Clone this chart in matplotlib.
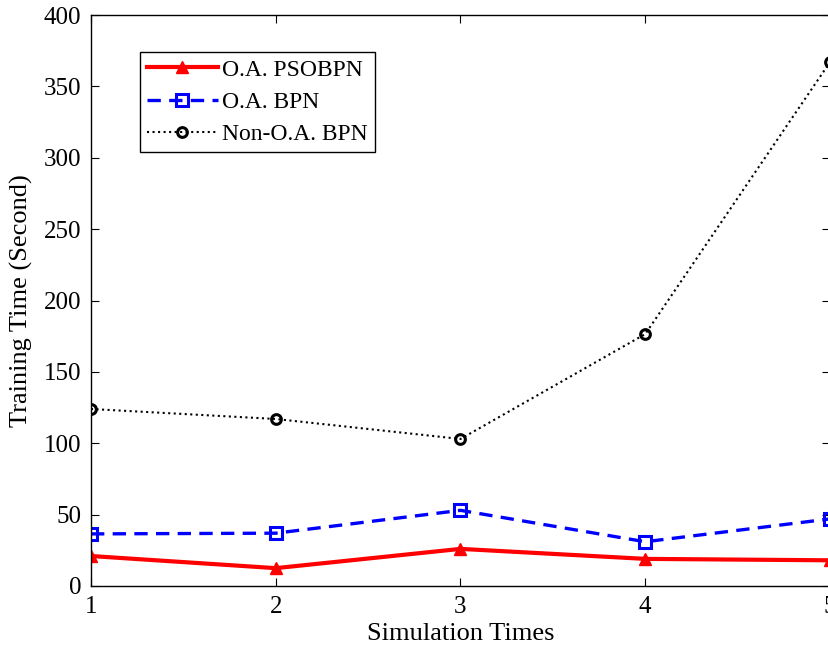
import matplotlib
matplotlib.use('Agg')
import matplotlib.pyplot as plt

# simulation runs and training times (seconds)
runs = [1, 2, 3, 4, 5]
pso_bpn = [21, 12.5, 26, 19, 18]
oa_bpn = [36.5, 37, 53, 31, 47]
non_oa_bpn = [124, 117, 103, 176.5, 367]

plt.rcParams['font.family'] = ['Liberation Serif', 'DejaVu Serif']

fig = plt.figure(figsize=(8.29, 6.52), dpi=100)
ax = fig.add_axes([91/829, 66/652, 739/829, 571/652])

ax.plot(runs, pso_bpn, color='red', lw=3, marker='^', ms=8,
        markerfacecolor='red', label='O.A. PSOBPN')
ax.plot(runs, oa_bpn, color='blue', lw=2.4, ls=(0, (4, 2.5)), marker='s', ms=8,
        markerfacecolor='none', markeredgewidth=2.2, label='O.A. BPN')
ax.plot(runs, non_oa_bpn, color='black', lw=1.5, ls=':', marker='o', ms=7,
        markerfacecolor='none', markeredgewidth=2.2, label='Non-O.A. BPN')

ax.set_xlim(1, 5)
ax.set_ylim(0, 400)
ax.set_xticks(runs)
ax.set_yticks(range(0, 401, 50))
ax.tick_params(direction='in', length=6, labelsize=18, top=True, right=True, pad=7)
for s in ax.spines.values():
    s.set_linewidth(1.0)

ax.set_xlabel('Simulation Times', fontsize=19, labelpad=4)
ax.set_ylabel('Training Time (Second)', fontsize=19, labelpad=8)

leg = ax.legend(loc='upper left', bbox_to_anchor=(0.066, 0.935), fontsize=17,
                fancybox=False, framealpha=1, edgecolor='black', handlelength=3.0,
                borderpad=0.3, labelspacing=0.45, handletextpad=0.2, borderaxespad=0)
leg.get_frame().set_linewidth(1.0)

fig.savefig('out.png', dpi=100)
